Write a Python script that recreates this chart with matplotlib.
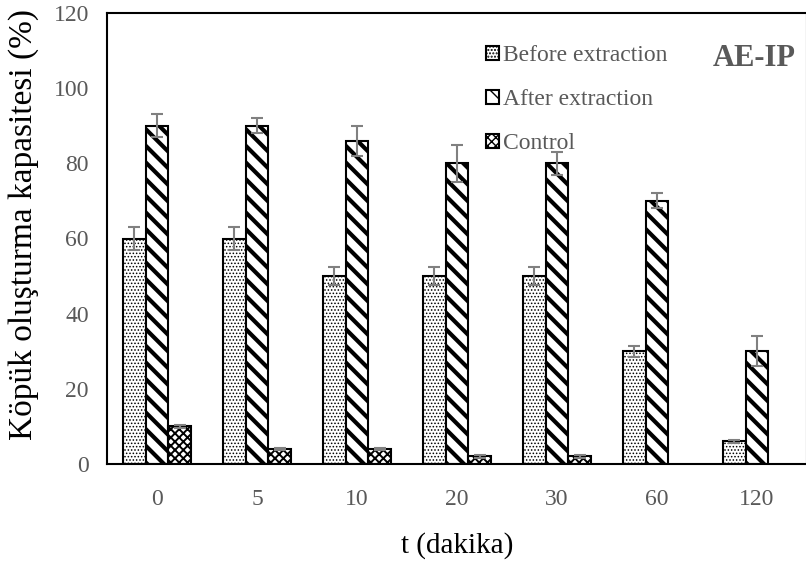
import numpy as np
import matplotlib.pyplot as plt

plt.rcParams["font.family"] = ["Liberation Serif", "DejaVu Serif"]

# data
times = ["0", "5", "10", "20", "30", "60", "120"]
before = [60, 60, 50, 50, 50, 30, 6]
before_err = [3, 3, 2.5, 2.5, 2.5, 1.5, 0.5]
after = [90, 90, 86, 80, 80, 70, 30]
after_err = [3, 2, 4, 5, 3, 2, 4]
control = [10, 4, 4, 2, 2, np.nan, np.nan]
control_err = [0.5, 0.3, 0.3, 0.3, 0.3, np.nan, np.nan]

GRAY = "#595959"
ERR = "#808080"

fig = plt.figure(figsize=(8.06, 5.62), dpi=100)
ax = fig.add_axes([107 / 806, 98 / 562, 700 / 806, 451 / 562])

x = np.arange(len(times))
w = 0.227
series = [
    ("Before extraction", before, before_err, ".....", 0.7),
    ("After extraction", after, after_err, "\\\\", 3.0),
    ("Control", control, control_err, "xxxx", 1.4),
]
for i, (label, vals, errs, hatch, hlw) in enumerate(series):
    with plt.rc_context({"hatch.linewidth": hlw}):
        bars = ax.bar(x + (i - 1) * w, vals, width=w, color="white",
                      edgecolor="black", linewidth=1.5, hatch=hatch, label=label,
                      yerr=errs, error_kw=dict(ecolor=ERR, elinewidth=1.5,
                                               capsize=4, capthick=1.5))
        for b in bars:
            if hasattr(b, "set_hatch_linewidth"):
                b.set_hatch_linewidth(hlw)

ax.set_xlim(-0.5, 6.5)
ax.set_ylim(0, 120)
ax.set_yticks(range(0, 121, 20))
ax.set_xticks(x)
ax.set_xticklabels(times)
ax.tick_params(length=0, labelsize=17, labelcolor=GRAY)
ax.tick_params(axis="y", pad=13)
ax.tick_params(axis="x", pad=18)
for s in ax.spines.values():
    s.set_linewidth(1.5)

ax.set_xlabel("t (dakika)", fontsize=21, labelpad=16)
ax.set_ylabel("Köpük oluşturma kapasitesi (%)", fontsize=24)
ax.yaxis.set_label_coords(-0.097, 0.53)

leg = fig.legend(loc="upper left", bbox_to_anchor=(486 / 806, 1 - 45 / 562),
                 frameon=False, fontsize=17, handlelength=0.55, handleheight=0.55,
                 handletextpad=0.15, labelspacing=0.98, borderpad=0,
                 borderaxespad=0)
for t in leg.get_texts():
    t.set_color(GRAY)

ax.text(713 / 806, 1 - 59 / 562, "AE-IP", transform=fig.transFigure,
        fontsize=22, fontweight="bold", color=GRAY, va="center", ha="left")

fig.savefig("out.png", dpi=100, facecolor="white")
